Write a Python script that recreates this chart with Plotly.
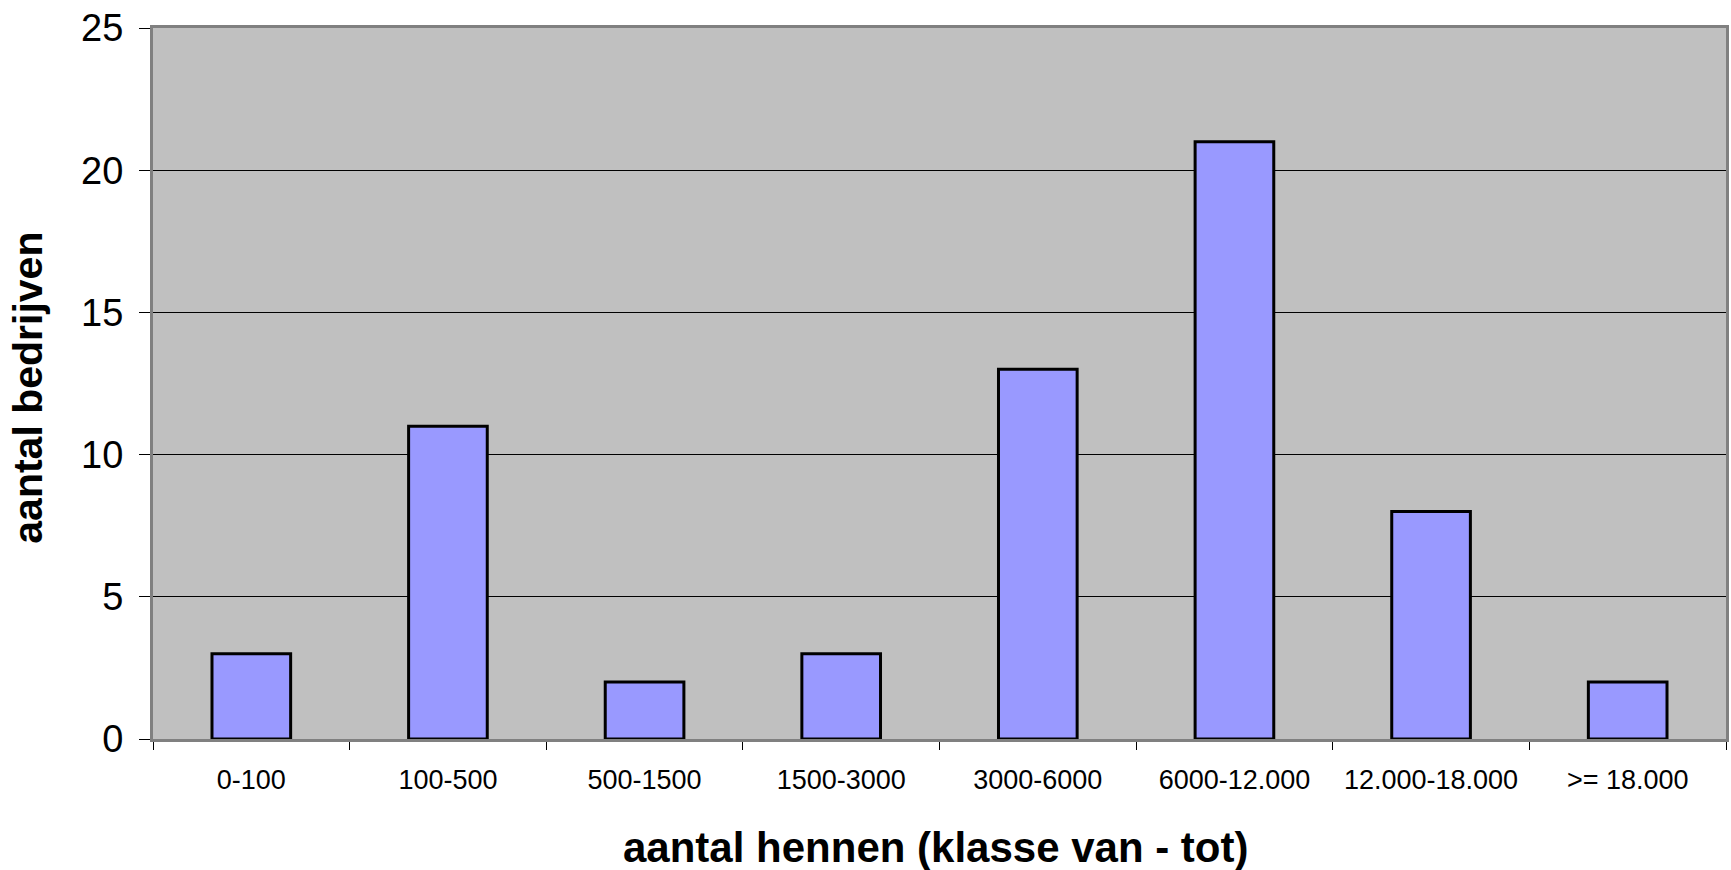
import plotly.graph_objects as go

categories = ["0-100", "100-500", "500-1500", "1500-3000", "3000-6000",
              "6000-12.000", "12.000-18.000", ">= 18.000"]
values = [3, 11, 2, 3, 13, 21, 8, 2]
y_ticks = [0, 5, 10, 15, 20, 25]

FONT = "Liberation Sans, Arial, sans-serif"

fig = go.Figure(go.Bar(
    x=categories, y=values,
    marker=dict(color="#9999FF", line=dict(color="black", width=3)),
))

fig.update_layout(
    width=1731, height=870,
    margin=dict(l=153, r=5, t=28, b=131),
    plot_bgcolor="#C0C0C0", paper_bgcolor="white",
    bargap=0.6, showlegend=False,
    font=dict(family=FONT, color="black"),
)
fig.update_xaxes(
    type="category", tickson="boundaries", automargin=False,
    ticks="outside", ticklen=8, tickcolor="black", tickwidth=1,
    showline=True, linecolor="#808080", linewidth=3, mirror=True,
    showgrid=False,
    tickfont=dict(size=27, family=FONT, color="black"),
    ticklabelstandoff=15,
)
fig.update_yaxes(
    range=[0, 25], tickvals=y_ticks, automargin=False,
    ticks="outside", ticklen=11, tickcolor="black", tickwidth=1,
    showline=True, linecolor="#808080", linewidth=3, mirror=True,
    showgrid=True, gridcolor="black", gridwidth=1, zeroline=False,
    tickfont=dict(size=38, family=FONT, color="black"),
    ticklabelstandoff=8,
)
fig.add_annotation(
    text="aantal hennen (klasse van - tot)", xref="paper", yref="paper",
    x=0.4975, y=-0.152, xanchor="center", yanchor="middle", showarrow=False,
    font=dict(size=42, family=FONT, color="black", weight="bold"),
)
fig.add_annotation(
    text="aantal bedrijven", xref="paper", yref="paper", textangle=-90,
    x=-0.0795, y=0.494, xanchor="center", yanchor="middle", showarrow=False,
    font=dict(size=41, family=FONT, color="black", weight="bold"),
)

fig.write_html("out.html", config={"displayModeBar": False},
               post_script="document.body.style.margin='0';document.body.style.overflow='hidden';")
